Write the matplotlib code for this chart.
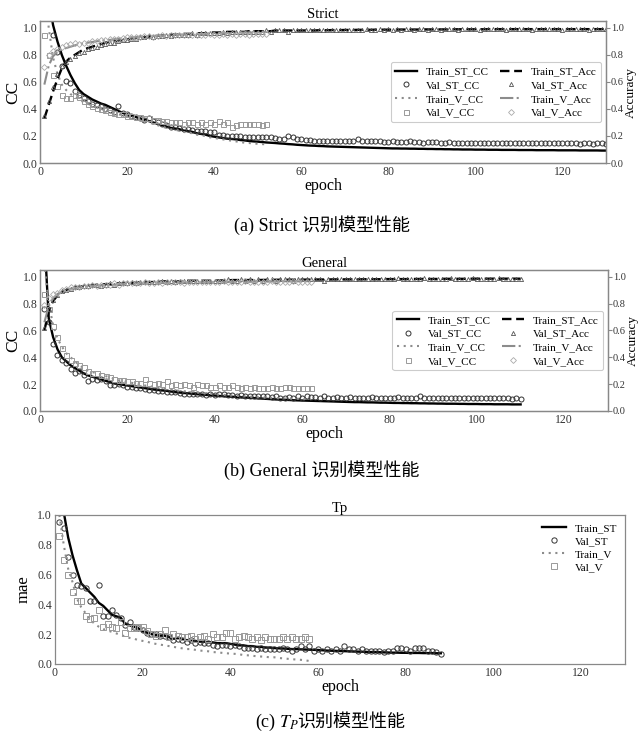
import numpy as np
import matplotlib
matplotlib.use("Agg")
import matplotlib.pyplot as plt

plt.rcParams['font.family'] = ['Liberation Serif', 'Noto Sans CJK SC']
plt.rcParams['mathtext.fontset'] = 'stix'

# ---- (a) Strict ----
a_train_st_cc = [
    1.60, 1.22, 1.02, 0.90, 0.80, 0.72, 0.65, 0.59, 0.54, 0.51,
    0.49, 0.47, 0.455, 0.44, 0.43, 0.415, 0.40, 0.385, 0.37, 0.36,
    0.35, 0.34, 0.33, 0.32, 0.31, 0.30, 0.29, 0.28, 0.27, 0.26,
    0.255, 0.25, 0.24, 0.235, 0.23, 0.22, 0.215, 0.21, 0.20, 0.195,
    0.19, 0.185, 0.18, 0.178, 0.175, 0.17, 0.167, 0.163, 0.16, 0.158,
    0.155, 0.152, 0.15, 0.148, 0.145, 0.143, 0.14, 0.138, 0.135, 0.133,
    0.131, 0.129, 0.128, 0.126, 0.125, 0.123, 0.122, 0.121, 0.12, 0.119,
    0.118, 0.117, 0.116, 0.115, 0.114, 0.113, 0.112, 0.111, 0.11, 0.109,
    0.108, 0.108, 0.107, 0.107, 0.106, 0.106, 0.105, 0.105, 0.104, 0.104,
    0.103, 0.103, 0.102, 0.102, 0.101, 0.101, 0.100, 0.100, 0.100, 0.099,
    0.099, 0.099, 0.098, 0.098, 0.098, 0.097, 0.097, 0.097, 0.097, 0.096,
    0.096, 0.096, 0.096, 0.095, 0.095, 0.095, 0.095, 0.095, 0.094, 0.094,
    0.094, 0.094, 0.094, 0.093, 0.093, 0.093, 0.093, 0.093, 0.092, 0.092,
]
a_val_st_cc = [
    1.35, 1.15, 0.95, 0.82, 0.72, 0.61, 0.59, 0.53, 0.50, 0.48,
    0.46, 0.44, 0.43, 0.42, 0.40, 0.39, 0.38, 0.42, 0.37, 0.36,
    0.35, 0.34, 0.33, 0.32, 0.33, 0.31, 0.30, 0.29, 0.28, 0.27,
    0.265, 0.26, 0.255, 0.25, 0.245, 0.24, 0.235, 0.235, 0.23, 0.23,
    0.21, 0.205, 0.20, 0.20, 0.20, 0.20, 0.195, 0.195, 0.195, 0.19,
    0.19, 0.19, 0.19, 0.185, 0.18, 0.18, 0.20, 0.19, 0.18, 0.175,
    0.17, 0.17, 0.165, 0.165, 0.165, 0.165, 0.16, 0.16, 0.165, 0.16,
    0.16, 0.165, 0.175, 0.165, 0.16, 0.16, 0.16, 0.16, 0.155, 0.155,
    0.16, 0.155, 0.155, 0.155, 0.16, 0.155, 0.155, 0.15, 0.155, 0.155,
    0.155, 0.15, 0.15, 0.155, 0.15, 0.15, 0.15, 0.15, 0.15, 0.15,
    0.15, 0.15, 0.15, 0.145, 0.15, 0.15, 0.145, 0.15, 0.145, 0.15,
    0.145, 0.145, 0.15, 0.145, 0.145, 0.145, 0.145, 0.15, 0.145, 0.145,
    0.145, 0.145, 0.145, 0.14, 0.145, 0.145, 0.14, 0.145, 0.145, 0.14,
]
a_train_v_cc = [
    1.40, 1.00, 0.78, 0.66, 0.58, 0.54, 0.51, 0.49, 0.47, 0.45,
    0.44, 0.42, 0.41, 0.40, 0.39, 0.38, 0.37, 0.36, 0.355, 0.35,
    0.34, 0.33, 0.32, 0.31, 0.30, 0.29, 0.28, 0.27, 0.26, 0.25,
    0.245, 0.24, 0.23, 0.225, 0.22, 0.21, 0.205, 0.20, 0.19, 0.185,
    0.18, 0.175, 0.17, 0.165, 0.16, 0.155, 0.15, 0.148, 0.145, 0.142,
    0.14, 0.138,
]
a_val_v_cc = [
    0.95, 0.80, 0.65, 0.57, 0.50, 0.48, 0.48, 0.50, 0.49, 0.46,
    0.44, 0.42, 0.41, 0.40, 0.39, 0.38, 0.37, 0.36, 0.36, 0.35,
    0.35, 0.34, 0.34, 0.33, 0.33, 0.32, 0.32, 0.31, 0.31, 0.30,
    0.30, 0.30, 0.29, 0.30, 0.30, 0.29, 0.30, 0.29, 0.30, 0.29,
    0.31, 0.29, 0.30, 0.27, 0.28, 0.29, 0.29, 0.29, 0.29, 0.29,
    0.28, 0.29,
]
a_train_st_acc = [
    0.33, 0.43, 0.53, 0.62, 0.70, 0.75, 0.78, 0.80, 0.82, 0.84,
    0.85, 0.86, 0.87, 0.88, 0.89, 0.895, 0.90, 0.905, 0.91, 0.915,
    0.92, 0.925, 0.93, 0.93, 0.935, 0.94, 0.94, 0.945, 0.945, 0.95,
    0.95, 0.95, 0.955, 0.955, 0.955, 0.96, 0.96, 0.96, 0.965, 0.965,
    0.965, 0.965, 0.97, 0.97, 0.97, 0.97, 0.97, 0.975, 0.975, 0.975,
    0.975, 0.975, 0.975, 0.98, 0.98, 0.98, 0.98, 0.98, 0.98, 0.98,
    0.98, 0.98, 0.98, 0.982, 0.982, 0.982, 0.983, 0.983, 0.983, 0.984,
    0.984, 0.984, 0.985, 0.985, 0.985, 0.985, 0.986, 0.986, 0.986, 0.986,
    0.986, 0.987, 0.987, 0.987, 0.987, 0.987, 0.987, 0.988, 0.988, 0.988,
    0.988, 0.988, 0.988, 0.988, 0.989, 0.989, 0.989, 0.989, 0.989, 0.989,
    0.989, 0.989, 0.99, 0.99, 0.99, 0.99, 0.99, 0.99, 0.99, 0.99,
    0.99, 0.99, 0.99, 0.99, 0.99, 0.99, 0.99, 0.99, 0.99, 0.99,
    0.99, 0.99, 0.99, 0.99, 0.99, 0.99, 0.99, 0.99, 0.99, 0.99,
]
a_val_st_acc = [
    0.35, 0.46, 0.56, 0.66, 0.72, 0.75, 0.77, 0.79, 0.81, 0.82,
    0.84, 0.85, 0.86, 0.87, 0.88, 0.89, 0.89, 0.90, 0.91, 0.91,
    0.92, 0.92, 0.93, 0.93, 0.94, 0.93, 0.94, 0.94, 0.95, 0.94,
    0.95, 0.95, 0.95, 0.95, 0.96, 0.95, 0.96, 0.96, 0.96, 0.96,
    0.96, 0.97, 0.96, 0.97, 0.97, 0.97, 0.97, 0.97, 0.97, 0.97,
    0.97, 0.98, 0.97, 0.98, 0.98, 0.98, 0.97, 0.98, 0.98, 0.98,
    0.98, 0.98, 0.98, 0.98, 0.98, 0.98, 0.98, 0.98, 0.98, 0.98,
    0.98, 0.98, 0.98, 0.98, 0.99, 0.98, 0.98, 0.99, 0.98, 0.99,
    0.98, 0.99, 0.98, 0.99, 0.99, 0.98, 0.99, 0.99, 0.98, 0.99,
    0.99, 0.98, 0.99, 0.99, 0.99, 0.98, 0.99, 0.99, 0.99, 0.99,
    0.98, 0.99, 0.99, 0.99, 0.99, 0.99, 0.98, 0.99, 0.99, 0.99,
    0.99, 0.99, 0.98, 0.99, 0.99, 0.99, 0.99, 0.99, 0.99, 0.98,
    0.99, 0.99, 0.99, 0.99, 0.99, 0.98, 0.99, 0.99, 0.99, 0.99,
]
a_train_v_acc = [
    0.58, 0.72, 0.79, 0.82, 0.84, 0.85, 0.86, 0.87, 0.88, 0.885,
    0.89, 0.895, 0.90, 0.905, 0.91, 0.91, 0.915, 0.92, 0.92, 0.925,
    0.93, 0.93, 0.935, 0.935, 0.94, 0.94, 0.94, 0.945, 0.945, 0.945,
    0.95, 0.95, 0.95, 0.95, 0.955, 0.955, 0.955, 0.955, 0.96, 0.96,
    0.96, 0.96, 0.96, 0.96, 0.965, 0.965, 0.965, 0.965, 0.965, 0.965,
    0.97, 0.97,
]
a_val_v_acc = [
    0.71, 0.80, 0.83, 0.84, 0.86, 0.87, 0.88, 0.885, 0.88, 0.89,
    0.89, 0.90, 0.905, 0.91, 0.91, 0.915, 0.92, 0.92, 0.925, 0.93,
    0.93, 0.935, 0.93, 0.94, 0.94, 0.935, 0.94, 0.945, 0.94, 0.945,
    0.945, 0.95, 0.945, 0.95, 0.95, 0.945, 0.95, 0.95, 0.955, 0.95,
    0.95, 0.955, 0.95, 0.955, 0.95, 0.955, 0.955, 0.95, 0.955, 0.955,
    0.955, 0.955,
]

# ---- (b) General ----
b_train_st_cc = [
    1.30, 0.69, 0.55, 0.46, 0.40, 0.37, 0.34, 0.32, 0.30, 0.28,
    0.265, 0.255, 0.245, 0.235, 0.225, 0.215, 0.205, 0.20, 0.195, 0.19,
    0.185, 0.18, 0.175, 0.17, 0.165, 0.16, 0.157, 0.153, 0.15, 0.145,
    0.14, 0.137, 0.134, 0.131, 0.128, 0.125, 0.122, 0.12, 0.117, 0.115,
    0.112, 0.11, 0.108, 0.106, 0.104, 0.102, 0.10, 0.098, 0.096, 0.094,
    0.092, 0.09, 0.088, 0.086, 0.085, 0.083, 0.082, 0.08, 0.079, 0.078,
    0.077, 0.076, 0.075, 0.074, 0.073, 0.072, 0.071, 0.070, 0.069, 0.068,
    0.067, 0.066, 0.066, 0.065, 0.064, 0.064, 0.063, 0.062, 0.062, 0.061,
    0.060, 0.060, 0.059, 0.059, 0.058, 0.058, 0.057, 0.057, 0.056, 0.056,
    0.055, 0.055, 0.054, 0.054, 0.054, 0.053, 0.053, 0.052, 0.052, 0.052,
    0.051, 0.051, 0.051, 0.05, 0.05, 0.05, 0.05, 0.049, 0.049, 0.049,
]
b_val_st_cc = [
    0.76, 0.66, 0.50, 0.42, 0.38, 0.36, 0.31, 0.28, 0.30, 0.27,
    0.22, 0.24, 0.23, 0.24, 0.22, 0.19, 0.19, 0.20, 0.19, 0.18,
    0.18, 0.17, 0.17, 0.165, 0.16, 0.155, 0.15, 0.15, 0.14, 0.145,
    0.14, 0.135, 0.13, 0.13, 0.125, 0.13, 0.125, 0.12, 0.125, 0.12,
    0.125, 0.13, 0.12, 0.12, 0.115, 0.12, 0.11, 0.115, 0.11, 0.11,
    0.115, 0.11, 0.105, 0.11, 0.10, 0.10, 0.105, 0.10, 0.11, 0.10,
    0.11, 0.105, 0.105, 0.10, 0.115, 0.10, 0.10, 0.105, 0.10, 0.10,
    0.105, 0.10, 0.10, 0.10, 0.10, 0.105, 0.10, 0.10, 0.10, 0.10,
    0.10, 0.105, 0.10, 0.10, 0.10, 0.10, 0.11, 0.095, 0.10, 0.10,
    0.10, 0.095, 0.10, 0.10, 0.095, 0.10, 0.095, 0.095, 0.10, 0.095,
    0.095, 0.095, 0.10, 0.095, 0.095, 0.095, 0.095, 0.09, 0.095, 0.09,
]
b_train_v_cc = [
    1.10, 0.80, 0.64, 0.54, 0.48, 0.43, 0.40, 0.37, 0.34, 0.32,
    0.30, 0.29, 0.28, 0.27, 0.26, 0.25, 0.24, 0.23, 0.22, 0.215,
    0.21, 0.20, 0.195, 0.19, 0.185, 0.18, 0.175, 0.17, 0.165, 0.16,
    0.155, 0.15, 0.147, 0.144, 0.14, 0.137, 0.134, 0.13, 0.127, 0.125,
    0.122, 0.12, 0.118, 0.115, 0.113, 0.11, 0.108, 0.106, 0.104, 0.102,
    0.10, 0.099, 0.098, 0.096, 0.095, 0.094, 0.093, 0.092, 0.091, 0.09,
    0.089, 0.088,
]
b_val_v_cc = [
    0.87, 0.76, 0.63, 0.55, 0.47, 0.42, 0.38, 0.36, 0.34, 0.33,
    0.30, 0.28, 0.28, 0.27, 0.26, 0.25, 0.24, 0.23, 0.23, 0.22,
    0.22, 0.21, 0.21, 0.24, 0.21, 0.20, 0.21, 0.20, 0.22, 0.19,
    0.20, 0.19, 0.20, 0.19, 0.18, 0.20, 0.19, 0.19, 0.18, 0.18,
    0.19, 0.18, 0.18, 0.19, 0.18, 0.17, 0.18, 0.17, 0.18, 0.17,
    0.17, 0.17, 0.18, 0.17, 0.17, 0.18, 0.18, 0.17, 0.17, 0.17,
    0.17, 0.17,
]
b_train_st_acc = [
    0.60, 0.74, 0.82, 0.86, 0.88, 0.90, 0.91, 0.92, 0.925, 0.93,
    0.935, 0.935, 0.94, 0.94, 0.945, 0.945, 0.95, 0.95, 0.95, 0.955,
    0.955, 0.955, 0.96, 0.96, 0.96, 0.96, 0.96, 0.965, 0.965, 0.965,
    0.965, 0.965, 0.97, 0.97, 0.97, 0.97, 0.97, 0.97, 0.97, 0.97,
    0.972, 0.972, 0.972, 0.975, 0.975, 0.975, 0.975, 0.975, 0.975, 0.975,
    0.976, 0.976, 0.976, 0.977, 0.977, 0.977, 0.977, 0.978, 0.978, 0.978,
    0.978, 0.978, 0.979, 0.979, 0.979, 0.979, 0.98, 0.98, 0.98, 0.98,
    0.98, 0.98, 0.98, 0.981, 0.981, 0.981, 0.981, 0.981, 0.982, 0.982,
    0.982, 0.982, 0.982, 0.982, 0.983, 0.983, 0.983, 0.983, 0.983, 0.983,
    0.983, 0.984, 0.984, 0.984, 0.984, 0.984, 0.984, 0.984, 0.985, 0.985,
    0.985, 0.985, 0.985, 0.985, 0.985, 0.985, 0.985, 0.985, 0.985, 0.985,
]
b_val_st_acc = [
    0.62, 0.76, 0.83, 0.86, 0.89, 0.90, 0.91, 0.92, 0.92, 0.93,
    0.93, 0.94, 0.94, 0.93, 0.94, 0.95, 0.94, 0.95, 0.95, 0.95,
    0.96, 0.95, 0.96, 0.96, 0.96, 0.96, 0.96, 0.97, 0.96, 0.97,
    0.96, 0.97, 0.97, 0.97, 0.97, 0.97, 0.97, 0.97, 0.97, 0.97,
    0.97, 0.97, 0.98, 0.97, 0.97, 0.98, 0.97, 0.98, 0.97, 0.98,
    0.97, 0.98, 0.98, 0.97, 0.98, 0.98, 0.98, 0.97, 0.98, 0.98,
    0.98, 0.98, 0.98, 0.98, 0.97, 0.98, 0.98, 0.98, 0.98, 0.98,
    0.98, 0.98, 0.98, 0.98, 0.98, 0.98, 0.98, 0.98, 0.98, 0.98,
    0.98, 0.99, 0.98, 0.98, 0.98, 0.98, 0.98, 0.99, 0.98, 0.98,
    0.98, 0.98, 0.98, 0.99, 0.98, 0.98, 0.98, 0.98, 0.99, 0.98,
    0.98, 0.98, 0.98, 0.98, 0.99, 0.98, 0.98, 0.98, 0.98, 0.98,
]
b_train_v_acc = [
    0.66, 0.78, 0.84, 0.87, 0.89, 0.90, 0.91, 0.915, 0.92, 0.925,
    0.93, 0.93, 0.935, 0.935, 0.94, 0.94, 0.94, 0.945, 0.945, 0.945,
    0.95, 0.95, 0.95, 0.95, 0.952, 0.952, 0.954, 0.954, 0.955, 0.955,
    0.956, 0.956, 0.957, 0.957, 0.958, 0.958, 0.958, 0.959, 0.959, 0.96,
    0.96, 0.96, 0.96, 0.961, 0.961, 0.962, 0.962, 0.962, 0.963, 0.963,
    0.963, 0.963, 0.964, 0.964, 0.964, 0.965, 0.965, 0.965, 0.965, 0.966,
    0.966, 0.966,
]
b_val_v_acc = [
    0.79, 0.84, 0.87, 0.88, 0.90, 0.91, 0.92, 0.92, 0.92, 0.93,
    0.93, 0.94, 0.93, 0.94, 0.94, 0.94, 0.95, 0.94, 0.95, 0.95,
    0.95, 0.95, 0.95, 0.96, 0.95, 0.95, 0.96, 0.95, 0.96, 0.96,
    0.96, 0.96, 0.95, 0.96, 0.96, 0.96, 0.96, 0.96, 0.96, 0.96,
    0.96, 0.97, 0.96, 0.96, 0.96, 0.96, 0.97, 0.96, 0.96, 0.96,
    0.96, 0.96, 0.97, 0.96, 0.96, 0.96, 0.96, 0.97, 0.96, 0.96,
    0.96, 0.96,
]

# ---- (c) Tp ----
c_train_st = [
    1.25, 1.02, 0.85, 0.73, 0.63, 0.54, 0.51, 0.48, 0.45, 0.41,
    0.39, 0.36, 0.33, 0.32, 0.31, 0.27, 0.26, 0.25, 0.24, 0.22,
    0.21, 0.20, 0.195, 0.19, 0.19, 0.18, 0.17, 0.17, 0.165, 0.16,
    0.16, 0.155, 0.15, 0.15, 0.145, 0.145, 0.14, 0.14, 0.14, 0.135,
    0.13, 0.125, 0.125, 0.12, 0.12, 0.115, 0.115, 0.11, 0.11, 0.107,
    0.105, 0.104, 0.102, 0.10, 0.10, 0.098, 0.097, 0.096, 0.095, 0.094,
    0.092, 0.09, 0.089, 0.088, 0.087, 0.086, 0.085, 0.084, 0.083, 0.082,
    0.081, 0.08, 0.08, 0.079, 0.078, 0.077, 0.076, 0.076, 0.075, 0.075,
    0.074, 0.074, 0.074, 0.073, 0.073, 0.073, 0.072, 0.072,
]
c_val_st = [
    0.95, 0.91, 0.72, 0.60, 0.53, 0.52, 0.51, 0.42, 0.42, 0.53,
    0.32, 0.32, 0.36, 0.33, 0.31, 0.26, 0.28, 0.25, 0.24, 0.23,
    0.21, 0.20, 0.20, 0.19, 0.19, 0.18, 0.16, 0.17, 0.16, 0.15,
    0.16, 0.14, 0.15, 0.14, 0.14, 0.13, 0.12, 0.13, 0.13, 0.12,
    0.13, 0.12, 0.11, 0.11, 0.11, 0.10, 0.11, 0.10, 0.10, 0.10,
    0.10, 0.11, 0.10, 0.09, 0.10, 0.12, 0.10, 0.12, 0.09, 0.10,
    0.09, 0.10, 0.09, 0.10, 0.09, 0.12, 0.10, 0.10, 0.09, 0.10,
    0.09, 0.09, 0.09, 0.09, 0.08, 0.09, 0.09, 0.11, 0.11, 0.10,
    0.09, 0.11, 0.11, 0.11, 0.09, 0.09, 0.08, 0.07,
]
c_train_v = [
    1.00, 0.80, 0.64, 0.55, 0.44, 0.38, 0.34, 0.30, 0.27, 0.25,
    0.235, 0.225, 0.215, 0.205, 0.195, 0.185, 0.175, 0.17, 0.16, 0.155,
    0.15, 0.14, 0.135, 0.13, 0.125, 0.12, 0.115, 0.11, 0.105, 0.10,
    0.10, 0.095, 0.09, 0.088, 0.085, 0.08, 0.078, 0.075, 0.072, 0.07,
    0.068, 0.065, 0.06, 0.058, 0.055, 0.052, 0.05, 0.048, 0.045, 0.045,
    0.04, 0.038, 0.035, 0.032, 0.03, 0.028, 0.025, 0.02,
]
c_val_v = [
    0.86, 0.70, 0.60, 0.48, 0.42, 0.42, 0.32, 0.30, 0.31, 0.36,
    0.25, 0.27, 0.25, 0.24, 0.28, 0.21, 0.24, 0.24, 0.25, 0.25,
    0.22, 0.20, 0.19, 0.20, 0.23, 0.18, 0.20, 0.19, 0.18, 0.18,
    0.19, 0.17, 0.18, 0.19, 0.17, 0.20, 0.18, 0.18, 0.21, 0.21,
    0.17, 0.18, 0.19, 0.18, 0.17, 0.18, 0.16, 0.18, 0.17, 0.17,
    0.17, 0.18, 0.17, 0.18, 0.17, 0.17, 0.18, 0.17,
]

SPINE = '#888888'
GRAY = '#8c8c8c'


def ep(values):
    return np.arange(1, len(values) + 1)


def style_axes(ax):
    for s in ax.spines.values():
        s.set_color(SPINE)
        s.set_linewidth(0.9)
    ax.tick_params(labelsize=8.5, length=0, pad=2, colors='#333333')


def draw_cc_acc(ax, title, tr_st, va_st, tr_v, va_v, tr_st_acc, va_st_acc, tr_v_acc, va_v_acc):
    ax2 = ax.twinx()
    h = []
    h += ax.plot(ep(tr_st), tr_st, color='black', lw=1.7, label='Train_ST_CC')
    h += ax.plot(ep(va_st), va_st, 'o', mfc='none', mec='#333333', ms=3.6, mew=0.7, label='Val_ST_CC')
    h += ax.plot(ep(tr_v), tr_v, color=GRAY, lw=1.5, linestyle=(0, (1, 2.2)), label='Train_V_CC')
    h += ax.plot(ep(va_v), va_v, 's', mfc='none', mec='#999999', ms=3.6, mew=0.7, label='Val_V_CC')
    h += ax2.plot(ep(tr_st_acc), tr_st_acc, color='black', lw=1.7, linestyle=(0, (4, 2)), label='Train_ST_Acc')
    h += ax2.plot(ep(va_st_acc), va_st_acc, '^', mfc='none', mec='#555555', ms=3.0, mew=0.6, label='Val_ST_Acc')
    h += ax2.plot(ep(tr_v_acc), tr_v_acc, color=GRAY, lw=1.5, linestyle='-.', label='Train_V_Acc')
    h += ax2.plot(ep(va_v_acc), va_v_acc, 'D', mfc='none', mec='#aaaaaa', ms=3.0, mew=0.6, label='Val_V_Acc')

    for a in (ax, ax2):
        a.set_xlim(0, 130)
        a.set_ylim(0, 1.05)
        a.set_yticks([0, 0.2, 0.4, 0.6, 0.8, 1.0])
        a.set_yticklabels(['0.0', '0.2', '0.4', '0.6', '0.8', '1.0'])
    ax.set_xticks([0, 20, 40, 60, 80, 100, 120])
    style_axes(ax)
    style_axes(ax2)
    ax2.tick_params(axis='y', length=3, width=0.8, color=SPINE, pad=0.5, labelsize=7.5)
    ax.set_title(title, fontsize=10.5, pad=2)
    ax.set_xlabel('epoch', fontsize=11.5, labelpad=0)
    ax.set_ylabel('CC', fontsize=12.5, labelpad=1)
    ax2.set_ylabel('Accuracy', fontsize=9.5, labelpad=1)
    leg = ax2.legend(handles=h, ncol=2, loc='center right', bbox_to_anchor=(0.992, 0.5),
                     fontsize=8, handlelength=2.0, columnspacing=1.0, labelspacing=0.35,
                     borderaxespad=0, fancybox=True, framealpha=1)
    leg.get_frame().set_edgecolor('#cccccc')
    leg.get_frame().set_linewidth(0.8)


fig = plt.figure(figsize=(6.4, 7.38), dpi=100)

ax_a = fig.add_axes([0.0625, 0.7791, 0.8844, 0.1924])
draw_cc_acc(ax_a, 'Strict', a_train_st_cc, a_val_st_cc, a_train_v_cc, a_val_v_cc,
            a_train_st_acc, a_val_st_acc, a_train_v_acc, a_val_v_acc)

ax_b = fig.add_axes([0.0625, 0.4431, 0.8875, 0.1911])
draw_cc_acc(ax_b, 'General', b_train_st_cc, b_val_st_cc, b_train_v_cc, b_val_v_cc,
            b_train_st_acc, b_val_st_acc, b_train_v_acc, b_val_v_acc)

ax_c = fig.add_axes([0.0859, 0.1003, 0.8906, 0.2019])
ax_c.plot(ep(c_train_st), c_train_st, color='black', lw=1.7, label='Train_ST')
ax_c.plot(ep(c_val_st), c_val_st, 'o', mfc='none', mec='#333333', ms=3.8, mew=0.7, label='Val_ST')
ax_c.plot(ep(c_train_v), c_train_v, color=GRAY, lw=1.5, linestyle=(0, (1, 2.2)), label='Train_V')
ax_c.plot(ep(c_val_v), c_val_v, 's', mfc='none', mec='#999999', ms=3.8, mew=0.7, label='Val_V')
ax_c.set_xlim(0, 130)
ax_c.set_ylim(0, 1.0)
ax_c.set_xticks([0, 20, 40, 60, 80, 100, 120])
ax_c.set_yticks([0, 0.2, 0.4, 0.6, 0.8, 1.0])
ax_c.set_yticklabels(['0.0', '0.2', '0.4', '0.6', '0.8', '1.0'])
style_axes(ax_c)
ax_c.set_title('Tp', fontsize=10.5, pad=2)
ax_c.set_xlabel('epoch', fontsize=11.5, labelpad=0)
ax_c.set_ylabel('mae', fontsize=12, labelpad=4)
ax_c.legend(loc='upper right', bbox_to_anchor=(0.995, 0.975), frameon=False, fontsize=8,
            handlelength=2.2, labelspacing=0.3, borderaxespad=0)

fig.text(0.503, 0.695, '(a) Strict 识别模型性能', ha='center', va='center', fontsize=13)
fig.text(0.503, 0.363, '(b) General 识别模型性能', ha='center', va='center', fontsize=13)
# math part and CJK part drawn separately so the CJK glyphs use the CJK font
fig.text(0.468, 0.021, r'(c) $T_P$', ha='right', va='center', fontsize=13)
fig.text(0.464, 0.021, '识别模型性能', ha='left', va='center', fontsize=13)

fig.savefig('out.png', dpi=100, facecolor='white')
